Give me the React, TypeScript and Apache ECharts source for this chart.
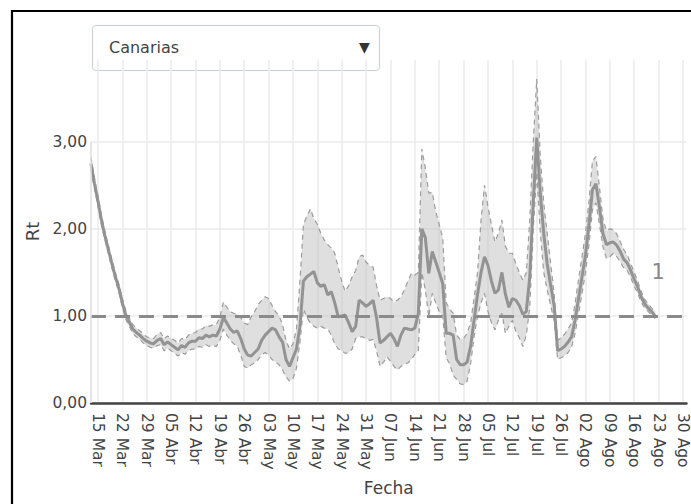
import React, { useEffect, useRef } from "react";
import * as echarts from "echarts";

// Daily Rt estimate for Canarias, 13 Mar – 22 Ago
const rtValues = [
  2.75, 2.52, 2.32, 2.10, 1.92, 1.76, 1.60, 1.45, 1.32, 1.15,
  1.01, 0.93, 0.85, 0.81, 0.78, 0.74, 0.71, 0.69, 0.68, 0.72,
  0.74, 0.67, 0.70, 0.67, 0.64, 0.61, 0.66, 0.64, 0.69, 0.71,
  0.71, 0.75, 0.74, 0.78, 0.76, 0.78, 0.77, 0.85, 0.98, 0.92,
  0.85, 0.81, 0.83, 0.74, 0.62, 0.55, 0.54, 0.58, 0.62, 0.72,
  0.78, 0.82, 0.86, 0.84, 0.76, 0.70, 0.50, 0.42, 0.52, 0.62,
  0.88, 1.40, 1.45, 1.48, 1.51, 1.38, 1.34, 1.36, 1.24, 1.28,
  1.15, 0.99, 1.00, 1.01, 0.92, 0.82, 0.88, 1.18, 1.15, 1.11,
  1.14, 1.18, 0.98, 0.69, 0.72, 0.76, 0.80, 0.74, 0.65, 0.78,
  0.86, 0.85, 0.84, 0.86, 1.03, 2.00, 1.90, 1.49, 1.74, 1.62,
  1.50, 1.37, 0.80, 0.80, 0.78, 0.50, 0.44, 0.44, 0.47, 0.65,
  0.95, 1.25, 1.50, 1.68, 1.58, 1.40, 1.26, 1.30, 1.50, 1.25,
  1.10, 1.20, 1.18, 1.12, 1.02, 1.05, 1.45, 2.30, 3.05, 2.42,
  1.95, 1.60, 1.35, 1.12, 0.60, 0.62, 0.65, 0.70, 0.76, 0.95,
  1.20, 1.45, 1.70, 2.05, 2.45, 2.52, 2.25, 1.95, 1.82, 1.84,
  1.85, 1.81, 1.74, 1.65, 1.61, 1.52, 1.42, 1.33, 1.22, 1.14,
  1.09, 1.05, 1.00,
];

// Upper bound of the credible interval
const rtUpper = [
  2.82, 2.58, 2.38, 2.16, 1.97, 1.81, 1.65, 1.50, 1.37, 1.20,
  1.06, 0.98, 0.90, 0.86, 0.83, 0.79, 0.76, 0.75, 0.74, 0.79,
  0.81, 0.74, 0.77, 0.74, 0.72, 0.69, 0.74, 0.73, 0.78, 0.80,
  0.81, 0.85, 0.85, 0.89, 0.88, 0.90, 0.90, 0.98, 1.16, 1.10,
  1.05, 1.03, 1.02, 0.98, 0.92, 0.90, 0.99, 1.05, 1.13, 1.18,
  1.22, 1.20, 1.12, 1.05, 1.00, 0.90, 0.72, 0.62, 0.68, 0.85,
  1.40, 2.05, 2.15, 2.23, 2.12, 2.05, 1.95, 1.87, 1.82, 1.78,
  1.72, 1.55, 1.40, 1.28, 1.35, 1.45, 1.52, 1.68, 1.70, 1.62,
  1.58, 1.56, 1.35, 1.18, 1.20, 1.22, 1.20, 1.16, 1.18, 1.22,
  1.30, 1.40, 1.49, 1.47, 1.50, 2.92, 2.70, 2.41, 2.42, 2.20,
  2.05, 1.90, 1.15, 1.08, 1.03, 0.78, 0.73, 0.74, 0.80, 0.92,
  1.20, 1.50, 2.10, 2.50, 2.25, 2.05, 1.85, 1.95, 2.10, 1.80,
  1.72, 1.72, 1.60, 1.50, 1.41, 1.50, 2.10, 3.00, 3.72, 2.85,
  2.30, 1.95, 1.60, 1.25, 0.72, 0.75, 0.79, 0.85, 0.92, 1.14,
  1.42, 1.68, 1.95, 2.32, 2.78, 2.83, 2.48, 2.12, 1.98, 2.00,
  1.99, 1.94, 1.85, 1.76, 1.70, 1.60, 1.50, 1.40, 1.28, 1.19,
  1.14, 1.09, 1.05,
];

// Lower bound of the credible interval
const rtLower = [
  2.68, 2.46, 2.26, 2.04, 1.87, 1.71, 1.55, 1.40, 1.27, 1.10,
  0.96, 0.88, 0.80, 0.76, 0.73, 0.69, 0.66, 0.64, 0.63, 0.66,
  0.67, 0.60, 0.63, 0.60, 0.57, 0.54, 0.58, 0.56, 0.60, 0.62,
  0.62, 0.65, 0.64, 0.67, 0.65, 0.66, 0.65, 0.72, 0.85, 0.78,
  0.72, 0.68, 0.65, 0.55, 0.42, 0.40, 0.44, 0.46, 0.50, 0.55,
  0.58, 0.55, 0.50, 0.47, 0.44, 0.38, 0.30, 0.25, 0.28, 0.40,
  0.70, 1.08, 0.98, 0.92, 0.88, 0.86, 0.88, 0.86, 0.85, 0.78,
  0.68, 0.62, 0.60, 0.57, 0.58, 0.62, 0.74, 0.76, 0.76, 0.74,
  0.72, 0.73, 0.60, 0.42, 0.47, 0.53, 0.48, 0.42, 0.38, 0.42,
  0.45, 0.46, 0.50, 0.56, 0.60, 1.50, 1.30, 0.99, 1.26, 1.15,
  1.05, 1.00, 0.52, 0.45, 0.32, 0.27, 0.22, 0.21, 0.25, 0.45,
  0.76, 1.00, 1.15, 1.26, 1.05, 0.92, 0.84, 0.95, 1.03, 0.80,
  0.88, 0.95, 0.82, 0.75, 0.65, 0.78, 1.10, 2.00, 2.65, 1.98,
  1.50, 1.30, 1.12, 0.95, 0.50, 0.52, 0.54, 0.58, 0.64, 0.80,
  1.02, 1.26, 1.50, 1.82, 2.22, 2.30, 2.05, 1.80, 1.66, 1.68,
  1.72, 1.68, 1.62, 1.55, 1.52, 1.44, 1.34, 1.26, 1.16, 1.09,
  1.05, 1.01, 0.97,
];

// Weekly ticks on the date axis
const tickLabels = [
  "15 Mar", "22 Mar", "29 Mar", "05 Abr", "12 Abr", "19 Abr", "26 Abr",
  "03 May", "10 May", "17 May", "24 May", "31 May", "07 Jun", "14 Jun",
  "21 Jun", "28 Jun", "05 Jul", "12 Jul", "19 Jul", "26 Jul", "02 Ago",
  "09 Ago", "16 Ago", "23 Ago", "30 Ago",
];

const yTicks = [0, 1, 2, 3];
const threshold = 1;
const regionOptions = ["Canarias"];

const MONTHS_ES = ["Ene", "Feb", "Mar", "Abr", "May", "Jun", "Jul", "Ago", "Sep", "Oct", "Nov", "Dic"];

// Daily categories from 13 Mar to 31 Ago 2020
function buildDays(): string[] {
  const out: string[] = [];
  const start = Date.UTC(2020, 2, 13);
  const end = Date.UTC(2020, 7, 31);
  for (let t = start; t <= end; t += 86400000) {
    const d = new Date(t);
    const dd = String(d.getUTCDate()).padStart(2, "0");
    out.push(`${dd} ${MONTHS_ES[d.getUTCMonth()]}`);
  }
  return out;
}

const FONT = "DejaVu Sans";
const TEXT = "#444";

export default function App() {
  const ref = useRef<HTMLDivElement>(null);

  useEffect(() => {
    if (!ref.current) return;
    const chart = echarts.init(ref.current, null, { renderer: "svg" });
    const days = buildDays();
    const isTick = (_i: number, v: string) => tickLabels.includes(v);
    const bandWidth = rtUpper.map((u, i) => +(u - rtLower[i]).toFixed(2));
    const lastIdx = rtValues.length - 1;
    const lastVal = rtValues[lastIdx];
    const fmt = (v: number) => v.toFixed(2).replace(".", ",");

    chart.setOption({
      animation: false,
      backgroundColor: "#fff",
      grid: { left: 91, right: 0, top: 60, bottom: 101, containLabel: false },
      xAxis: {
        type: "category",
        data: days,
        boundaryGap: false,
        name: "Fecha",
        nameLocation: "middle",
        nameGap: 76,
        nameTextStyle: { fontFamily: FONT, fontSize: 17, color: TEXT },
        axisLine: { show: true, lineStyle: { color: TEXT, width: 2.5 } },
        axisTick: { show: false },
        axisLabel: {
          interval: isTick,
          rotate: -90,
          margin: 10,
          fontFamily: FONT,
          fontSize: 15.5,
          color: TEXT,
        },
        splitLine: { show: true, interval: isTick, lineStyle: { color: "#ebebeb", width: 1.5 } },
      },
      yAxis: {
        type: "value",
        min: yTicks[0],
        max: 3.94,
        interval: 1,
        name: "Rt",
        nameLocation: "middle",
        nameGap: 48,
        nameTextStyle: { fontFamily: FONT, fontSize: 18, color: TEXT },
        axisLine: { show: false },
        axisTick: { show: false },
        axisLabel: {
          margin: 4,
          fontFamily: FONT,
          fontSize: 15.5,
          color: TEXT,
          showMaxLabel: false,
          formatter: (v: number) => (yTicks.includes(v) ? fmt(v) : ""),
        },
        splitLine: { show: true, showMaxLine: false, lineStyle: { color: "#ebebeb", width: 1.5 } },
      },
      series: [
        {
          name: "base",
          type: "line",
          data: rtLower,
          stack: "ci",
          symbol: "none",
          silent: true,
          lineStyle: { opacity: 0 },
          z: 1,
          markLine: {
            silent: true,
            symbol: "none",
            label: { show: false },
            lineStyle: { color: "#dedede", width: 1.5, type: "solid" },
            data: [[{ coord: [days[0], yTicks[0]] }, { coord: [days[0], yTicks[3]] }]],
          },
        },
        {
          name: "band",
          type: "line",
          data: bandWidth,
          stack: "ci",
          symbol: "none",
          silent: true,
          lineStyle: { opacity: 0 },
          areaStyle: { color: "rgba(185,185,185,0.45)", opacity: 1 },
          z: 1,
        },
        {
          name: "upper",
          type: "line",
          data: rtUpper,
          symbol: "none",
          silent: true,
          lineStyle: { color: "#9c9c9c", width: 1.2, type: [5, 4] },
          z: 2,
        },
        {
          name: "lower",
          type: "line",
          data: rtLower,
          symbol: "none",
          silent: true,
          lineStyle: { color: "#9c9c9c", width: 1.2, type: [5, 4] },
          z: 2,
        },
        {
          name: "Rt",
          type: "line",
          data: rtValues,
          symbol: "none",
          lineStyle: { color: "#939393", width: 3 },
          z: 3,
          markLine: {
            silent: true,
            symbol: "none",
            label: { show: false },
            lineStyle: { color: "#8a8a8a", width: 3, type: [15, 9] },
            data: [{ yAxis: threshold }],
            z: 4,
          },
          markPoint: {
            silent: true,
            symbol: "circle",
            symbolSize: 0,
            data: [{ coord: [days[lastIdx], lastVal], value: lastVal }],
            label: {
              show: true,
              formatter: () => String(Math.round(lastVal * 100) / 100),
              offset: [3, -44],
              fontFamily: FONT,
              fontSize: 21,
              color: "#888",
            },
          },
        },
      ],
      graphic: [
        {
          type: "rect",
          z: 100,
          silent: true,
          shape: { x: 12, y: 11, width: 720, height: 540 },
          style: { fill: "none", stroke: "#000", lineWidth: 2.2 },
        },
        {
          type: "group",
          z: 100,
          children: [
            {
              type: "rect",
              shape: { x: 92.5, y: 25.5, width: 287, height: 45, r: 3 },
              style: { fill: "#fff", stroke: "#c8cdd9", lineWidth: 1 },
            },
            {
              type: "text",
              x: 109,
              y: 47,
              style: {
                text: regionOptions[0],
                fontFamily: FONT,
                fontSize: 16,
                fill: TEXT,
                verticalAlign: "middle",
                align: "left",
              },
            },
            {
              type: "text",
              x: 364.5,
              y: 46.5,
              style: {
                text: "▼",
                fontFamily: FONT,
                fontSize: 14,
                fill: "#333",
                verticalAlign: "middle",
                align: "center",
              },
            },
          ],
        },
      ],
    });

    return () => chart.dispose();
  }, []);

  return (
    <div style={{ position: "fixed", left: 0, top: 0, width: 691, height: 504, overflow: "hidden", background: "#fff" }}>
      <div ref={ref} style={{ width: 691, height: 504 }} />
    </div>
  );
}
